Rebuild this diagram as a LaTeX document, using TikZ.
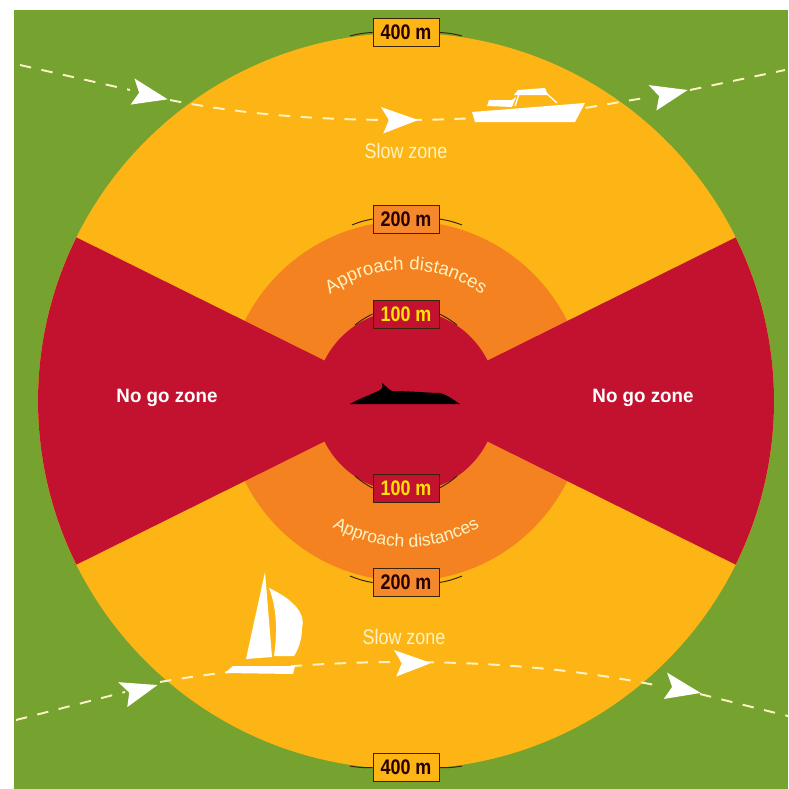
\documentclass[tikz,border=0pt]{standalone}
\usepackage{fontspec}
\usetikzlibrary{decorations.text}
\newfontfamily\narrowfont[FakeStretch=0.85]{Liberation Sans}
\newfontfamily\nogofont[FakeStretch=0.97]{Liberation Sans}
\newfontfamily\curvefont{Liberation Sans}
\definecolor{seagreen}{HTML}{76A22F}
\definecolor{slowyellow}{HTML}{FDB515}
\definecolor{approachorange}{HTML}{F58220}
\definecolor{nogored}{HTML}{C3122F}
\definecolor{cream}{HTML}{FDF3C4}
\definecolor{tickdark}{HTML}{3A2408}
\tikzset{
	distbox/.style={draw=tickdark,line width=1pt,inner sep=0pt,minimum width=75pt,minimum height=32pt,font=\narrowfont\fontsize{24}{24}\selectfont\bfseries},
	tickline/.style={draw=tickdark,line width=1.1pt},
	wakeline/.style={draw=cream,line width=2.2pt,dash pattern=on 13pt off 12pt},
	zonelabel/.style={inner sep=0pt,text=cream,font=\narrowfont\fontsize{24}{24}\selectfont},
	nogolabel/.style={inner sep=0pt,text=white,font=\nogofont\fontsize{22}{22}\selectfont\bfseries},
	dart/.pic={\fill [white,scale=0.45] (1.7,0) -- (-1.6,1.15) -- (-0.9,0) -- (-1.4,-1.2) -- cycle;}
}
\begin{document}
\begin{tikzpicture}[scale=0.4]
	\useasboundingbox (0,0) rectangle (78.8,-78.9);
	\fill [white] (0,0) rectangle (78.8,-78.9);
	\fill [seagreen] (1.4,-1) rectangle (78.8,-78.9);
	\coordinate (centre) at (40.6,-40.1);
	% zones, outermost first
	\fill [slowyellow] (centre) circle (36.8);
	\fill [approachorange] (centre) circle (18);
	\fill [nogored] (centre) circle (9.1);
	\fill [nogored] (centre) -- +(153.6:36.8) arc (153.6:206.4:36.8) -- cycle;
	\fill [nogored] (centre) -- +(26.4:36.8) arc (26.4:-26.4:36.8) -- cycle;
	% wakes
	\draw [wakeline] (2,-6.5) -- (13,-9);
	\draw [wakeline] (17,-10) .. controls (25,-11.6) and (33,-12) .. (40,-12) .. controls (45,-12) and (50,-11.8) .. (58.5,-10.8) -- (65,-9.7);
	\draw [wakeline] (69,-9) -- (78.5,-7);
	\draw [wakeline] (1.6,-72) -- (12.5,-69.2);
	\draw [wakeline] (16,-68.2) .. controls (24,-66.8) and (33,-66.2) .. (40,-66.2) .. controls (50,-66.2) and (58,-67) .. (66,-68.6);
	\draw [wakeline] (70,-69.4) -- (78.8,-71.6);
	\pic [rotate=-13] at (14.9,-9.5) {dart};
	\pic at (39.9,-12) {dart};
	\pic [rotate=12] at (66.9,-9.4) {dart};
	\pic [rotate=15] at (13.9,-69) {dart};
	\pic at (41.2,-66.3) {dart};
	\pic [rotate=-12] at (68.2,-68.9) {dart};
	% motor boat
	\fill [white] (47.2,-11.2) -- (58.5,-10.3) -- (57.5,-12.2) -- (47.5,-12.2) -- cycle;
	\fill [white] (48.7,-10.6) -- (48.9,-10) -- (51.2,-10) -- (51.6,-9.7) -- (51.2,-10.7) -- cycle;
	\fill [white] (51.4,-9.5) -- (51.8,-9) -- (54.5,-8.8) -- (54.8,-9.5) -- cycle;
	\draw [white,line width=1.5pt] (51.9,-9.4) -- (51.5,-10.6);
	\draw [white,line width=1.5pt] (54.6,-9.3) -- (55.7,-10.3);
	% sail boat
	\fill [white] (26.5,-57.2) -- (24.6,-65.9) -- (27.2,-65.7) -- cycle;
	\fill [white] (26.9,-58.8) .. controls (29.5,-60) and (30.6,-61.5) .. (30.2,-62.8) .. controls (30.2,-64) and (29.8,-65) .. (29.4,-65.6) -- (27.4,-65.6) .. controls (27.8,-63) and (27.6,-60.5) .. (26.9,-58.8) -- cycle;
	\fill [white] (22.5,-67.3) -- (23.3,-66.6) -- (29.5,-66.6) -- (29.3,-67.4) -- cycle;
	% whale
	\fill [black] (35,-40.4) .. controls (36,-39.8) and (37.3,-39.4) .. (38,-39) .. controls (38.3,-38.8) and (38.3,-38.5) .. (38.2,-38.3) .. controls (38.6,-38.6) and (38.9,-39) .. (39.2,-39.1) .. controls (41,-39.1) and (43,-39.3) .. (44,-39.3) .. controls (44.8,-39.5) and (45.5,-40.1) .. (46,-40.4) -- cycle;
	% texts
	\node [nogolabel] (nogoleft) at (16.7,-39.8) {No go zone};
	\node [nogolabel] (nogoright) at (64.3,-39.8) {No go zone};
	\node [zonelabel] (slowtop) at (40.6,-15.1) {Slow zone};
	\node [zonelabel] (slowbottom) at (40.4,-63.7) {Slow zone};
	\path [decorate,decoration={text along path,text align=center,text color=cream,text={|\curvefont\fontsize{21}{21}\selectfont|Approach distances}}] (centre) ++(146:13.1) arc (146:34:13.1);
	\path [decorate,decoration={text along path,text align=center,text color=cream,text={|\curvefont\fontsize{20}{20}\selectfont|Approach distances}}] (centre) ++(210:14.6) arc (210:330:14.6);
	% distance boxes
	\node [distbox,fill=slowyellow,text=black!85!red] (fourtop) at (40.6,-3.25) {400 m};
	\node [distbox,fill=approachorange!95!white,text=black!85!red] (twotop) at (40.6,-21.9) {200 m};
	\node [distbox,fill=nogored,text=yellow!85!orange] (onetop) at (40.6,-31.4) {100 m};
	\node [distbox,fill=nogored,text=yellow!85!orange] (onebottom) at (40.6,-48.8) {100 m};
	\node [distbox,fill=approachorange!95!white,text=black!85!red] (twobottom) at (40.6,-58.25) {200 m};
	\node [distbox,fill=slowyellow,text=black!85!red] (fourbottom) at (40.6,-76.75) {400 m};
	\coordinate (fourtopl) at (35,-3.6);
	\coordinate (fourtopr) at (46.2,-3.6);
	\coordinate (twotopl) at (35.2,-22.5);
	\coordinate (twotopr) at (46.2,-22.5);
	\coordinate (onetopl) at (35.5,-32.5);
	\coordinate (onetopr) at (45.7,-32.5);
	\coordinate (onebottoml) at (35.5,-47.6);
	\coordinate (onebottomr) at (45.7,-47.6);
	\coordinate (twobottoml) at (35,-57.6);
	\coordinate (twobottomr) at (46.2,-57.6);
	\coordinate (fourbottoml) at (35,-76.6);
	\coordinate (fourbottomr) at (46.2,-76.6);
	\draw [tickline] (fourtop.west) to [bend right=6] (fourtopl);
	\draw [tickline] (fourtop.east) to [bend left=6] (fourtopr);
	\draw [tickline] (twotop.west) to [bend right=6] (twotopl);
	\draw [tickline] (twotop.east) to [bend left=6] (twotopr);
	\draw [tickline] (onetop.west) to [bend right=6] (onetopl);
	\draw [tickline] (onetop.east) to [bend left=6] (onetopr);
	\draw [tickline] (onebottom.west) to [bend left=6] (onebottoml);
	\draw [tickline] (onebottom.east) to [bend right=6] (onebottomr);
	\draw [tickline] (twobottom.west) to [bend left=6] (twobottoml);
	\draw [tickline] (twobottom.east) to [bend right=6] (twobottomr);
	\draw [tickline] (fourbottom.west) to [bend left=6] (fourbottoml);
	\draw [tickline] (fourbottom.east) to [bend right=6] (fourbottomr);
\end{tikzpicture}
\end{document}
